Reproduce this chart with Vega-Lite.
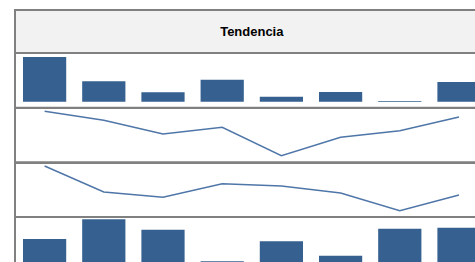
{
  "$schema": "https://vega.github.io/schema/vega-lite/v6.json",
  "background": "white",
  "padding": {"left": 14, "top": 9, "right": 0, "bottom": 0},
  "spacing": 0,
  "bounds": "flush",
  "config": {
    "view": {"stroke": "#808080", "strokeWidth": 2},
    "concat": {"spacing": 0}
  },
  "datasets": {
    "header": [{"t": "Tendencia"}],
    "r1": [
      {"c": "1", "v": 44.7}, {"c": "2", "v": 20.4}, {"c": "3", "v": 9.4}, {"c": "4", "v": 22},
      {"c": "5", "v": 5}, {"c": "6", "v": 9.7}, {"c": "7", "v": 0.8}, {"c": "8", "v": 19.7}
    ],
    "r2": [
      {"c": "1", "v": 51}, {"c": "2", "v": 42}, {"c": "3", "v": 28.3}, {"c": "4", "v": 35},
      {"c": "5", "v": 6.7}, {"c": "6", "v": 25}, {"c": "7", "v": 31.5}, {"c": "8", "v": 45.3}
    ],
    "r3": [
      {"c": "1", "v": 50.5}, {"c": "2", "v": 24.5}, {"c": "3", "v": 19.2}, {"c": "4", "v": 32.8},
      {"c": "5", "v": 30.5}, {"c": "6", "v": 23.5}, {"c": "7", "v": 5.8}, {"c": "8", "v": 21.5}
    ],
    "r4": [
      {"c": "1", "v": 23}, {"c": "2", "v": 42.7}, {"c": "3", "v": 32.3}, {"c": "4", "v": 0.7},
      {"c": "5", "v": 20.7}, {"c": "6", "v": 6.3}, {"c": "7", "v": 33.3}, {"c": "8", "v": 34.3}
    ]
  },
  "resolve": {"scale": {"x": "independent", "y": "independent"}},
  "vconcat": [
    {
      "width": 473.6,
      "height": 43,
      "view": {"fill": "#f2f2f2", "stroke": "#808080", "strokeWidth": 2},
      "data": {"name": "header"},
      "mark": {"type": "text", "font": "Liberation Sans", "fontSize": 13, "fontWeight": "bold", "color": "#000000", "align": "center", "baseline": "middle"},
      "encoding": {"text": {"field": "t"}}
    },
    {
      "width": 473.6,
      "height": 54.7,
      "data": {"name": "r1"},
      "mark": {"type": "bar", "color": "#36608f"},
      "encoding": {
        "x": {"field": "c", "type": "nominal", "axis": null, "scale": {"paddingInner": 0.27, "paddingOuter": 0.135}},
        "y": {"field": "v", "type": "quantitative", "axis": null, "scale": {"domain": [-6, 48.7], "nice": false}}
      }
    },
    {
      "width": 473.6,
      "height": 54.3,
      "data": {"name": "r2"},
      "mark": {"type": "line", "color": "#4f76a8", "strokeWidth": 1.5},
      "encoding": {
        "x": {"field": "c", "type": "ordinal", "axis": null, "scale": {"type": "point", "padding": 0.5}},
        "y": {"field": "v", "type": "quantitative", "axis": null, "scale": {"domain": [0, 54.3], "nice": false}}
      }
    },
    {
      "width": 473.6,
      "height": 54,
      "data": {"name": "r3"},
      "mark": {"type": "line", "color": "#4f76a8", "strokeWidth": 1.5},
      "encoding": {
        "x": {"field": "c", "type": "ordinal", "axis": null, "scale": {"type": "point", "padding": 0.5}},
        "y": {"field": "v", "type": "quantitative", "axis": null, "scale": {"domain": [-0.5, 53.5], "nice": false}}
      }
    },
    {
      "width": 473.6,
      "height": 54,
      "data": {"name": "r4"},
      "mark": {"type": "bar", "color": "#36608f"},
      "encoding": {
        "x": {"field": "c", "type": "nominal", "axis": null, "scale": {"paddingInner": 0.27, "paddingOuter": 0.135}},
        "y": {"field": "v", "type": "quantitative", "axis": null, "scale": {"domain": [-9, 45], "nice": false}}
      }
    }
  ]
}
